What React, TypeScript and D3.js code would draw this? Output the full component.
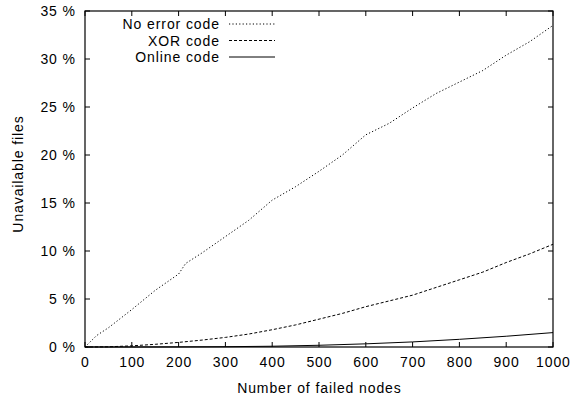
import React from "react";
import * as d3 from "d3";

const W = 578;
const H = 398;

const xTicks = [0, 100, 200, 300, 400, 500, 600, 700, 800, 900, 1000];
const yTicks = [0, 5, 10, 15, 20, 25, 30, 35];

const seriesNames = ["No error code", "XOR code", "Online code"];

const noErrorNodes = [0, 25, 50, 100, 150, 200, 215, 250, 300, 350, 400, 450, 500, 550, 600, 650, 700, 750, 800, 850, 900, 950, 1000];
const noErrorPct = [0, 1.2, 2.0, 3.9, 5.9, 7.6, 8.7, 9.8, 11.5, 13.2, 15.3, 16.7, 18.3, 20.0, 22.1, 23.3, 24.9, 26.4, 27.6, 28.8, 30.4, 31.8, 33.5];

const xorNodes = [0, 50, 100, 150, 200, 250, 300, 350, 400, 450, 500, 550, 600, 650, 700, 750, 800, 850, 900, 950, 1000];
const xorPct = [0, 0.02, 0.12, 0.28, 0.48, 0.72, 1.0, 1.35, 1.8, 2.3, 2.9, 3.5, 4.2, 4.8, 5.4, 6.2, 7.0, 7.8, 8.8, 9.7, 10.7];

const onlineNodes = [0, 100, 200, 300, 400, 500, 600, 700, 800, 900, 1000];
const onlinePct = [0, 0, 0.01, 0.03, 0.08, 0.18, 0.33, 0.53, 0.8, 1.12, 1.5];

const dashes = ["1.2,2.2", "3,2", null];

export default function App() {
  const left = 85, right = 553, top = 11, bottom = 347;
  const x = d3.scaleLinear().domain([0, 1000]).range([left, right]);
  const y = d3.scaleLinear().domain([0, 35]).range([bottom, top]);
  const line = d3.line<[number, number]>().x(d => x(d[0])).y(d => y(d[1]));

  const series = [
    noErrorNodes.map((n, i) => [n, noErrorPct[i]] as [number, number]),
    xorNodes.map((n, i) => [n, xorPct[i]] as [number, number]),
    onlineNodes.map((n, i) => [n, onlinePct[i]] as [number, number]),
  ];

  const font = "'Liberation Sans', Arial, sans-serif";
  const tl = 5;
  const ls = 0.9;

  return (
    <svg width={W} height={H} style={{ position: "absolute", left: 0, top: 0, background: "#fff" }} fontFamily={font} fontSize={14} letterSpacing={ls}>
      <rect x={0} y={0} width={W} height={H} fill="#fff" />
      {series.map((s, i) => (
        <path key={i} d={line(s) || ""} fill="none" stroke="#000" strokeWidth={1}
          strokeDasharray={dashes[i] || undefined} />
      ))}
      <rect x={left} y={top} width={right - left} height={bottom - top} fill="none" stroke="#000" strokeWidth={1.2} />
      {xTicks.map(t => (
        <g key={"x" + t}>
          <line x1={x(t)} x2={x(t)} y1={bottom} y2={bottom - tl} stroke="#000" />
          <line x1={x(t)} x2={x(t)} y1={top} y2={top + tl} stroke="#000" />
          <text x={x(t) + ls / 2} y={367} textAnchor="middle">{t}</text>
        </g>
      ))}
      {yTicks.map(t => (
        <g key={"y" + t}>
          <line x1={left} x2={left + tl} y1={y(t)} y2={y(t)} stroke="#000" />
          <line x1={right} x2={right - tl} y1={y(t)} y2={y(t)} stroke="#000" />
          <text x={75 + ls} y={y(t) + 5} textAnchor="end">{t + " %"}</text>
        </g>
      ))}
      <text x={(left + right) / 2 + ls / 2} y={393} textAnchor="middle">Number of failed nodes</text>
      <text transform={`translate(23,174) rotate(-90)`} textAnchor="middle">Unavailable files</text>
      {seriesNames.map((name, i) => {
        const ly = 24 + i * 16.5;
        return (
          <g key={name}>
            <text x={219 + ls} y={ly + 5} textAnchor="end">{name}</text>
            <line x1={229} x2={275} y1={ly} y2={ly} stroke="#000" strokeWidth={1}
              strokeDasharray={dashes[i] || undefined} />
          </g>
        );
      })}
    </svg>
  );
}
